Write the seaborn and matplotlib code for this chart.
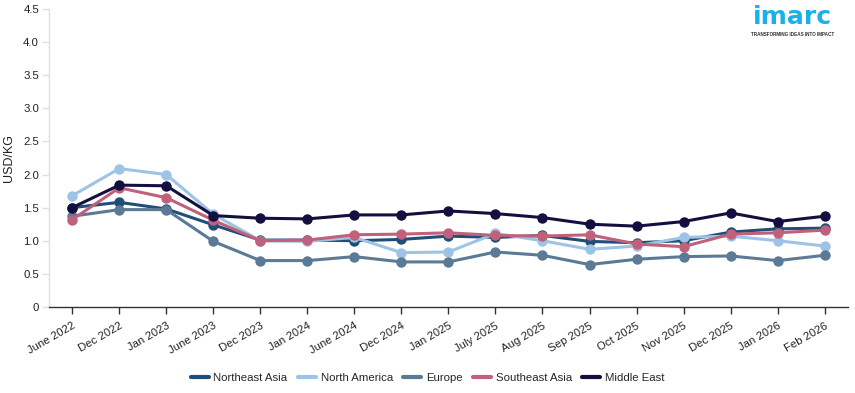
import matplotlib
matplotlib.use("Agg")
import matplotlib.pyplot as plt
import seaborn as sns
import pandas as pd
import numpy as np

months = ["June 2022", "Dec 2022", "Jan 2023", "June 2023", "Dec 2023", "Jan 2024",
          "June 2024", "Dec 2024", "Jan 2025", "July 2025", "Aug 2025", "Sep 2025",
          "Oct 2025", "Nov 2025", "Dec 2025", "Jan 2026", "Feb 2026"]

northeast_asia = [1.50, 1.58, 1.48, 1.24, 1.01, 1.01, 1.00, 1.02, 1.07, 1.05, 1.08, 0.99, 0.97, 1.00, 1.13, 1.18, 1.19]
north_america = [1.68, 2.09, 2.00, 1.40, 1.00, 0.99, 1.05, 0.82, 0.83, 1.11, 1.00, 0.87, 0.92, 1.05, 1.07, 1.00, 0.92]
europe = [1.37, 1.47, 1.47, 0.99, 0.70, 0.70, 0.76, 0.68, 0.68, 0.83, 0.78, 0.64, 0.72, 0.76, 0.77, 0.70, 0.78]
southeast_asia = [1.32, 1.80, 1.65, 1.31, 1.00, 1.01, 1.09, 1.10, 1.12, 1.08, 1.07, 1.09, 0.95, 0.91, 1.10, 1.12, 1.16]
middle_east = [1.50, 1.84, 1.83, 1.38, 1.34, 1.33, 1.39, 1.39, 1.45, 1.41, 1.35, 1.25, 1.22, 1.29, 1.42, 1.29, 1.37]

series = {
    "Northeast Asia": northeast_asia,
    "North America": north_america,
    "Europe": europe,
    "Southeast Asia": southeast_asia,
    "Middle East": middle_east,
}
colors = {
    "Northeast Asia": "#1f4e79",
    "North America": "#9dc3e6",
    "Europe": "#5b7a95",
    "Southeast Asia": "#c0607a",
    "Middle East": "#13103f",
}

rows = []
for name, vals in series.items():
    for i, v in enumerate(vals):
        rows.append({"idx": i, "value": v, "region": name})
df = pd.DataFrame(rows)

sns.set_style("white")
plt.rcParams['font.family'] = ['Liberation Sans', 'DejaVu Sans']

fig = plt.figure(figsize=(8.55, 3.93), dpi=100)
ax = fig.add_axes([0.057, 0.219, 0.935, 0.758])

sns.lineplot(data=df, x="idx", y="value", hue="region", palette=colors,
             hue_order=list(series.keys()), marker="o", markersize=7.5,
             markeredgewidth=0, linewidth=2.2, ax=ax, legend=False, sort=False)

ax.set_xlim(-0.5, len(months) - 0.5)
ax.set_ylim(0, 4.5)
ax.set_xticks(range(len(months)))
ax.set_xticklabels(months, rotation=30, ha="right", rotation_mode="anchor", fontsize=8.2, color="#222222")
ax.set_yticks(np.arange(0, 4.6, 0.5))
ax.set_yticklabels(["0"] + [f"{v:.1f}" for v in np.arange(0.5, 4.6, 0.5)], fontsize=8.2, color="#222222")
ax.set_xlabel("")
ax.set_ylabel("USD/KG", fontsize=9, color="#222222", labelpad=6)

for s in ["top", "right"]:
    ax.spines[s].set_visible(False)
ax.spines["left"].set_color("#e0e0e0")
ax.spines["left"].set_linewidth(1)
ax.spines["bottom"].set_color("#333333")
ax.spines["bottom"].set_linewidth(1)
ax.tick_params(axis="x", which="both", bottom=True, length=5, width=1, color="#333333", pad=5)
ax.tick_params(axis="y", which="both", left=True, length=5, width=1, color="#e0e0e0", pad=2)

from matplotlib.lines import Line2D
handles = [Line2D([0], [0], color=c, lw=3) for c in colors.values()]
fig.legend(handles, list(series.keys()), loc="center", bbox_to_anchor=(0.5, 0.038),
           ncol=5, frameon=False, fontsize=8.2, handlelength=1.6, handletextpad=0.4,
           columnspacing=0.9)

fig.text(0.927, 0.988, "imarc", color="#1ab0e8", fontsize=18, ha="center", va="top",
         fontweight="bold", family=["DejaVu Sans"])
fig.text(0.927, 0.911, "TRANSFORMING IDEAS INTO IMPACT", color="#333333", fontsize=3.3,
         ha="center", va="center", fontweight="bold")

fig.savefig("out.png", dpi=100)
